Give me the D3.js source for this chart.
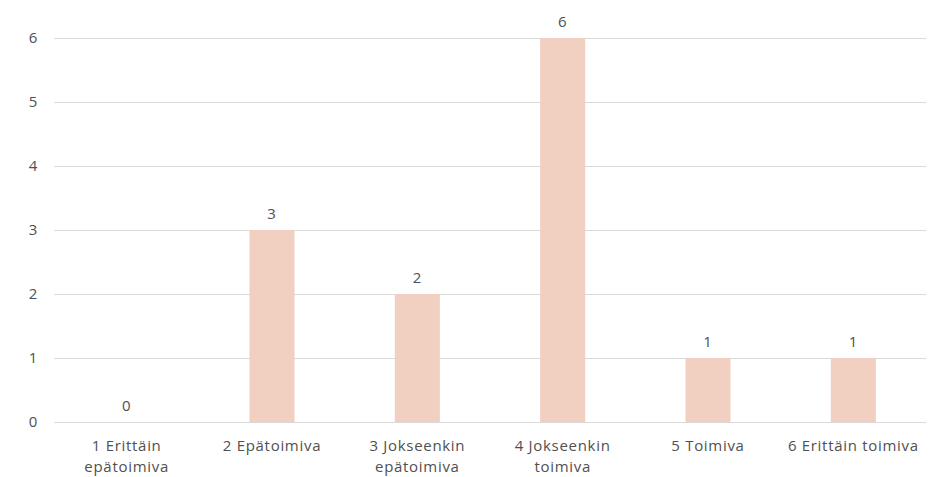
<!DOCTYPE html>
<html><head><meta charset="utf-8">
<script src="https://cdn.jsdelivr.net/npm/d3@7"></script>
<style>body{margin:0;background:#fff}svg{display:block}text{font-family:"Open Sans","Noto Sans",sans-serif;fill:#505050;letter-spacing:0.7px}</style>
</head><body><svg id="c" width="934" height="477"></svg>
<script>
const categories = [["1 Erittäin","epätoimiva"],["2 Epätoimiva"],["3 Jokseenkin","epätoimiva"],["4 Jokseenkin","toimiva"],["5 Toimiva"],["6 Erittäin toimiva"]];
const values = [0,3,2,6,1,1];
const yTicks = [0,1,2,3,4,5,6];

(function(){
const svg = d3.select("#c");
const mLeft = 54, mRight = 926, mTop = 38, mBottom = 422;
const x = d3.scaleBand().domain(d3.range(categories.length)).range([mLeft, mRight]).paddingInner(0.69).paddingOuter(0.345);
const y = d3.scaleLinear().domain([0,6]).range([mBottom, mTop]);

svg.append("g").selectAll("line").data(yTicks).join("line")
  .attr("x1", mLeft).attr("x2", mRight).attr("y1", d=>y(d)+0.5).attr("y2", d=>y(d)+0.5)
  .attr("stroke","#d9d9d9").attr("stroke-width",1);

svg.append("g").selectAll("text").data(yTicks).join("text")
  .attr("x", 38).attr("y", d=>y(d)).attr("dy","0.35em").attr("text-anchor","end")
  .attr("font-size",15).text(d=>d);

svg.append("g").selectAll("rect").data(values).join("rect")
  .attr("x",(d,i)=>x(i)).attr("width",x.bandwidth())
  .attr("y",d=>y(d)).attr("height",d=>mBottom-y(d)).attr("fill","#f2d0c1");

svg.append("g").selectAll("text").data(values).join("text")
  .attr("x",(d,i)=>x(i)+x.bandwidth()/2).attr("y",d=>y(d)-16).attr("dy","0.35em")
  .attr("text-anchor","middle").attr("font-size",15).text(d=>d);

const xl = svg.append("g").selectAll("text").data(categories).join("text")
  .attr("x",(d,i)=>x(i)+x.bandwidth()/2).attr("y",446)
  .attr("text-anchor","middle").attr("font-size",15);
xl.selectAll("tspan").data(d=>d).join("tspan")
  .attr("x",function(){return this.parentNode.getAttribute("x");})
  .attr("dy",(d,i)=>i===0?"0.35em":"21px").text(d=>d);
})();
</script></body></html>
